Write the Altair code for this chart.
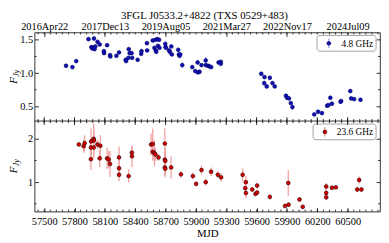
import altair as alt
import pandas as pd

FONT = "Liberation Serif"
TITLE = "3FGL J0533.2+4822 (TXS 0529+483)"
X_TITLE = "MJD"
LABEL_48 = "4.8 GHz"
LABEL_236 = "23.6 GHz"

# ---- 4.8 GHz light curve ----
mjd_48 = [57716, 57779, 57817, 57938, 57967, 57975, 57985, 57992, 57998, 58005,
          58027, 58049, 58090, 58092, 58122, 58151, 58154, 58214, 58240, 58305,
          58310, 58333, 58336, 58345, 58364, 58370, 58424, 58459, 58462, 58516,
          58518, 58573, 58590, 58600, 58603, 58608, 58620, 58625, 58636, 58640,
          58697, 58700, 58705, 58735, 58742, 58757, 58762, 58825, 58832, 58838,
          58845, 58865, 58964, 58993, 59017, 59020, 59036, 59055, 59097, 59097,
          59119, 59135, 59151, 59224, 59246, 59246, 59646, 59675, 59678, 59700,
          59731, 59757, 59779, 59890, 59900, 59920, 59938, 59954, 60170, 60208,
          60246, 60297, 60310, 60329, 60345, 60430, 60436, 60526, 60535, 60564,
          60627]
flux_48 = [1.11, 1.09, 1.18, 1.51, 1.39, 1.37, 1.38, 1.52, 1.36, 1.40,
           1.47, 1.43, 1.33, 1.30, 1.42, 1.27, 1.25, 1.26, 1.31, 1.20,
           1.18, 1.23, 1.36, 1.30, 1.30, 1.23, 1.20, 1.29, 1.33, 1.45,
           1.34, 1.49, 1.38, 1.50, 1.34, 1.32, 1.51, 1.41, 1.50, 1.38,
           1.44, 1.39, 1.38, 1.34, 1.32, 1.40, 1.28, 1.35, 1.28, 1.26,
           1.28, 1.12, 1.09, 1.03, 1.16, 1.01, 1.02, 1.12, 1.19, 1.12,
           1.11, 1.10, 1.09, 1.16, 1.17, 1.14, 0.99, 0.85, 0.94, 0.80,
           0.93, 0.85, 0.80, 0.66, 0.63, 0.62, 0.55, 0.49, 0.38, 0.42,
           0.40, 0.51, 0.52, 0.63, 0.54, 0.57, 0.58, 0.73, 0.62, 0.61,
           0.60]
err_48 = [0.02, 0.02, 0.02, 0.03, 0.03, 0.02, 0.02, 0.02, 0.02, 0.02,
          0.02, 0.02, 0.02, 0.03, 0.02, 0.03, 0.02, 0.02, 0.02, 0.03,
          0.02, 0.02, 0.02, 0.02, 0.02, 0.02, 0.02, 0.02, 0.02, 0.03,
          0.02, 0.02, 0.02, 0.03, 0.02, 0.02, 0.03, 0.02, 0.02, 0.02,
          0.03, 0.02, 0.02, 0.02, 0.02, 0.02, 0.02, 0.03, 0.02, 0.02,
          0.02, 0.04, 0.02, 0.02, 0.04, 0.02, 0.02, 0.02, 0.05, 0.02,
          0.02, 0.02, 0.02, 0.02, 0.02, 0.02, 0.02, 0.04, 0.02, 0.04,
          0.02, 0.02, 0.02, 0.02, 0.02, 0.02, 0.02, 0.05, 0.02, 0.02,
          0.02, 0.02, 0.02, 0.02, 0.02, 0.02, 0.02, 0.02, 0.02, 0.02,
          0.02]

# ---- 23.6 GHz light curve ----
mjd_236 = [57843, 57890, 57900, 57964, 57962, 57962, 57989, 57992, 57990, 58027,
           58049, 58055, 58122, 58138, 58151, 58240, 58240, 58240, 58335, 58367,
           58368, 58557, 58573, 58573, 58590, 58600, 58630, 58693, 58693, 58697,
           58693, 58697, 58755, 58852, 58970, 59002, 59055, 59097, 59150, 59217,
           59249, 59462, 59488, 59494, 59494, 59557, 59589, 59605, 59605, 59731,
           59881, 59916, 59913, 60024, 60056, 60288, 60288, 60288, 60345, 60383,
           60595, 60614, 60636]
flux_236 = [1.87, 1.83, 1.90, 1.94, 1.80, 1.53, 2.00, 1.96, 1.80, 1.87,
            1.55, 1.84, 1.55, 1.52, 1.42, 1.57, 1.32, 1.17, 1.14, 1.68,
            1.60, 1.87, 1.88, 1.70, 1.67, 1.64, 1.57, 1.89, 1.52, 1.49,
            1.34, 1.31, 1.34, 1.18, 1.14, 0.96, 1.28, 1.00, 1.24, 1.17,
            1.11, 1.17, 0.86, 1.00, 0.75, 0.83, 0.73, 0.76, 0.92, 0.66,
            0.45, 0.48, 0.98, 0.60, 0.43, 0.90, 0.75, 0.65, 0.87, 0.88,
            0.83, 1.05, 0.83]
err_236 = [0.05, 0.15, 0.18, 0.30, 0.20, 0.25, 0.35, 0.20, 0.25, 0.10,
           0.20, 0.25, 0.25, 0.20, 0.30, 0.25, 0.20, 0.15, 0.15, 0.15,
           0.25, 0.25, 0.35, 0.20, 0.30, 0.15, 0.08, 0.35, 0.20, 0.30,
           0.20, 0.20, 0.25, 0.08, 0.08, 0.06, 0.10, 0.08, 0.10, 0.08,
           0.10, 0.15, 0.10, 0.15, 0.12, 0.06, 0.06, 0.05, 0.07, 0.06,
           0.05, 0.05, 0.30, 0.05, 0.05, 0.08, 0.08, 0.06, 0.04, 0.04,
           0.05, 0.08, 0.05]

# ---- axes ----
x_domain = [57405, 60820]
x_major = [57500, 57800, 58100, 58400, 58700, 59000, 59300, 59600, 59900, 60200, 60500]
x_minor = list(range(57440, 60820, 60))
top_tick_values = [57500, 58100, 58700, 59300, 59900, 60500]
top_tick_labels = ["2016Apr22", "2017Dec13", "2019Aug05", "2021Mar27", "2022Nov17", "2024Jul09"]

y48_domain = [0.28, 1.61]
y48_major = [0.5, 1.0, 1.5]
y48_minor = [0.75, 1.25]
y236_domain = [0.32, 2.41]
y236_major = [1, 2]
y236_minor = [0.5, 1.5]

W = 351
H1 = 90          # upper panel height (px)
H2 = 92          # lower panel height (px)
H = H1 + H2

top_label_expr = "[{}][indexof([{}], datum.value)]".format(
    ",".join("'%s'" % s for s in top_tick_labels),
    ",".join(str(v) for v in top_tick_values))


def make_df(m, f, e):
    d = pd.DataFrame({"mjd": m, "flux": f, "err": e})
    d["lo"] = d["flux"] - d["err"]
    d["hi"] = d["flux"] + d["err"]
    return d


def ax(orient, values, size, labels=False, **kw):
    return alt.Axis(orient=orient, values=values, tickSize=size, offset=-size,
                    labels=labels, domain=False, grid=False, ticks=True,
                    tickColor="black", tickWidth=0.8, labelOverlap=False,
                    labelFlush=False, **kw)


xs = alt.Scale(domain=x_domain, nice=False, zero=False)
TICK = dict(color="black", strokeWidth=0.8)
one = alt.Chart(pd.DataFrame({"k": [0]}))


def panel_layers(df, y0, Hp, ydom, ymaj, ymin, yfmt, fill, stroke, errc, leg_label,
                 leg_left, leg_sym, x_bottom_axis, x_top_axis):
    ys = alt.Scale(domain=ydom, range=[y0 + Hp, y0], nice=False, zero=False)
    base = alt.Chart(df)
    err = base.mark_rule(color=errc, strokeWidth=1.3).encode(
        x=alt.X("mjd:Q", scale=xs, axis=x_bottom_axis),
        y=alt.Y("lo:Q", scale=ys, axis=ax("left", ymaj, 4, labels=True, format=yfmt,
                                           labelPadding=2, title=None)),
        y2="hi:Q",
    )
    pts = base.mark_circle(size=15, color=fill, opacity=1, stroke=stroke, strokeWidth=0.6).encode(
        x=alt.X("mjd:Q", scale=xs, axis=x_top_axis),
        y=alt.Y("flux:Q", scale=ys, axis=ax("right", ymaj, 4, title=None)),
    )
    ym = alt.Chart(pd.DataFrame({"v": ymin}))
    my_l = ym.mark_rule(**TICK).encode(
        y=alt.Y("v:Q", scale=ys, axis=None), x=alt.value(0), x2=alt.value(2))
    my_r = ym.mark_rule(**TICK).encode(
        y=alt.Y("v:Q", scale=ys, axis=None), x=alt.value(W), x2=alt.value(W - 2))

    yc = y0 + Hp / 2
    tF = one.mark_text(text="F", font=FONT, fontStyle="italic", fontSize=11, angle=270,
                       align="left", baseline="alphabetic", color="black").encode(
        x=alt.value(-18), y=alt.value(yc + 7))
    tJy = one.mark_text(text="Jy", font=FONT, fontStyle="italic", fontSize=8, angle=270,
                        align="left", baseline="alphabetic", color="black").encode(
        x=alt.value(-15.5), y=alt.value(yc))

    lrect = one.mark_rect(fill="white", stroke="#8c8c8c", strokeWidth=0.8, cornerRadius=3).encode(
        x=alt.value(W - leg_left), x2=alt.value(W - 4), y=alt.value(y0 + 3), y2=alt.value(y0 + 19))
    lrule = one.mark_rule(color=errc, strokeWidth=1.3).encode(
        x=alt.value(W - leg_sym), y=alt.value(y0 + 6), y2=alt.value(y0 + 16))
    lpt = one.mark_circle(size=15, color=fill, opacity=1, stroke=stroke, strokeWidth=0.6).encode(
        x=alt.value(W - leg_sym), y=alt.value(y0 + 11))
    ltxt = one.mark_text(text=leg_label, font=FONT, fontSize=9.5, align="right",
                         baseline="middle", color="black").encode(
        x=alt.value(W - 7), y=alt.value(y0 + 11.5))
    return [err, pts, my_l, my_r, tF, tJy, lrect, lrule, lpt, ltxt]


x_bottom = ax("bottom", x_major, 4, labels=True, title=X_TITLE, format="d",
              labelPadding=5, titlePadding=1)
x_top = ax("top", top_tick_values, 4, labels=True, labelExpr=top_label_expr,
           labelPadding=1, title=None)

upper = panel_layers(make_df(mjd_48, flux_48, err_48), 0, H1, y48_domain, y48_major, y48_minor,
                     ".1f", "#1010b0", "#00006e", "#a3a8ee", LABEL_48, 64, 52, x_bottom, x_top)
lower = panel_layers(make_df(mjd_236, flux_236, err_236), H1, H2, y236_domain, y236_major,
                     y236_minor, "d", "#dd0000", "#200000", "#f4a0a0", LABEL_236, 68, 56,
                     None, None)

# x ticks along the edges and the shared boundary between the panels
xmin_c = alt.Chart(pd.DataFrame({"v": x_minor}))
xmaj_c = alt.Chart(pd.DataFrame({"v": x_major}))
xv = alt.X("v:Q", scale=xs, axis=None)
edge_ticks = [
    xmin_c.mark_rule(**TICK).encode(x=xv, y=alt.value(H), y2=alt.value(H - 2)),
    xmin_c.mark_rule(**TICK).encode(x=xv, y=alt.value(0), y2=alt.value(2)),
    xmin_c.mark_rule(**TICK).encode(x=xv, y=alt.value(H1 - 2), y2=alt.value(H1 + 2)),
    xmaj_c.mark_rule(**TICK).encode(x=xv, y=alt.value(H1 - 4), y2=alt.value(H1 + 4)),
    one.mark_rule(color="black", strokeWidth=0.8).encode(
        x=alt.value(0), x2=alt.value(W), y=alt.value(H1)),
]

chart = alt.layer(*(upper + lower + edge_ticks)).resolve_scale(
    y="independent"
).resolve_axis(
    x="independent", y="independent"
).properties(
    width=W, height=H,
    title=alt.TitleParams(TITLE, font=FONT, fontSize=11, fontWeight="normal", color="black",
                          anchor="middle", frame="group", offset=1, dx=-3),
    padding=0,
).configure_view(
    stroke="black", strokeWidth=0.8
).configure_axis(
    labelFont=FONT, labelFontSize=10.5, labelColor="black",
    titleFont=FONT, titleFontSize=11, titleFontWeight="normal", titleColor="black",
)

chart.save("out.html", embed_options={"renderer": "svg", "actions": False})
